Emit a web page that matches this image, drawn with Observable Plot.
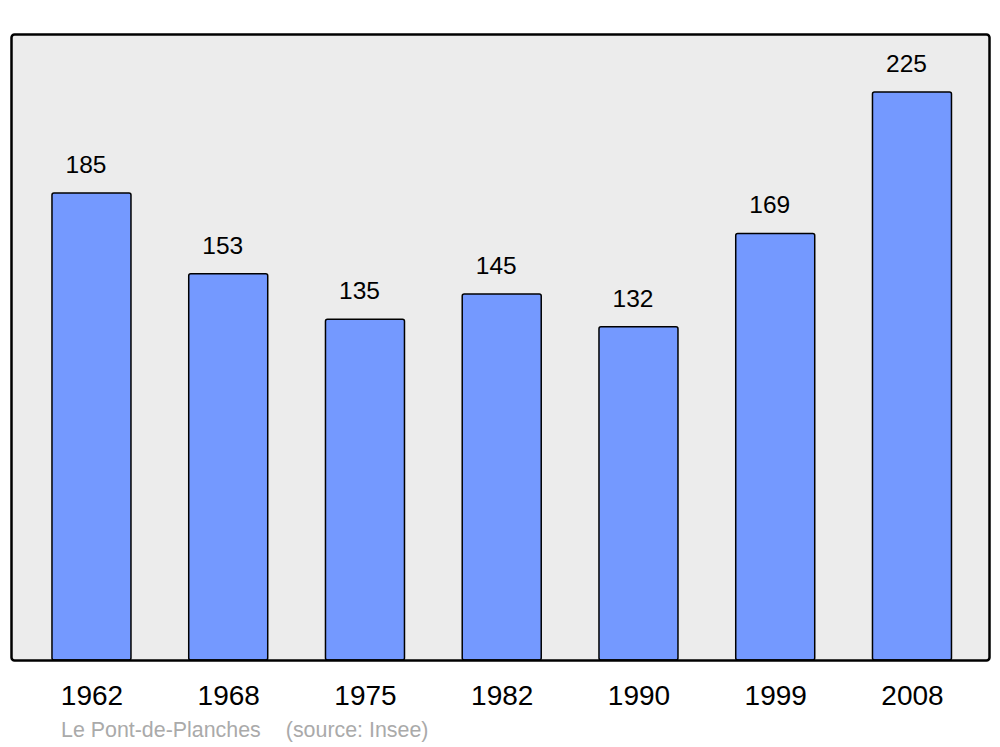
<!DOCTYPE html>
<html>
<head>
<meta charset="utf-8">
<script src="https://cdn.jsdelivr.net/npm/d3@7"></script>
<script src="https://cdn.jsdelivr.net/npm/@observablehq/plot@0.6"></script>
<style>
  html, body { margin: 0; padding: 0; background: #fff; }
  #chart svg { display: block; }
  #caption { font-family: "Liberation Sans", Arial, sans-serif; font-size: 21.4px; color: #aaaaaa; line-height: 24px; padding-left: 61px; padding-top: 2px; white-space: nowrap; }
  #caption .src { margin-left: 25px; }
</style>
</head>
<body>
<div id="chart"></div>
<div id="caption"><span>Le Pont-de-Planches</span><span class="src">(source: Insee)</span></div>
<script>
const years = ["1962", "1968", "1975", "1982", "1990", "1999", "2008"];
const population = [185, 153, 135, 145, 132, 169, 225];

const data = years.map((y, i) => ({year: y, value: population[i]}));

const chart = Plot.plot({
  width: 1000,
  height: 716,
  marginTop: 34,
  marginBottom: 56,
  marginLeft: 11,
  marginRight: 11,
  style: {fontFamily: "Liberation Sans, Arial, sans-serif", background: "#fff", color: "black"},
  x: {type: "band", domain: years, paddingInner: 0.4223, paddingOuter: 0.287, align: 0.522, round: false, label: null},
  y: {domain: [0, 248], axis: null},
  marks: [
    Plot.frame({fill: "#ececec", stroke: "none", rx: 3}),
    Plot.barY(data, {x: "year", y: "value", fill: "#7499ff", stroke: "black", strokeWidth: 1.5, rx: 2, insetTop: 0, insetBottom: 0}),
    Plot.frame({fill: "none", stroke: "black", strokeWidth: 2.5, rx: 3}),
    Plot.text(data, {x: "year", y: "value", text: d => String(d.value), dy: -20.5, dx: -6, lineAnchor: "bottom", fontSize: 24.5, fill: "black"}),
    Plot.axisX({tickSize: 0, tickPadding: 25, fontSize: 28, fill: "black", label: null})
  ]
});
document.getElementById("chart").appendChild(chart);
</script>
</body>
</html>
